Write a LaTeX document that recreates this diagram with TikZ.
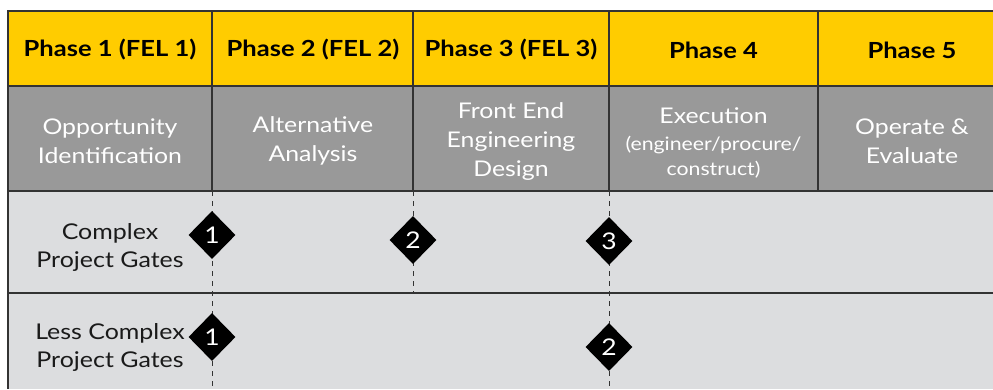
\documentclass[tikz,border=0pt]{standalone}
\usepackage{fontspec}
\setmainfont[FakeStretch=1.15]{Lato}
\usetikzlibrary{shapes.geometric}
\definecolor{hdryellow}{HTML}{FFCC00}
\definecolor{hdrgray}{HTML}{999999}
\definecolor{rowgray}{HTML}{DCDDDF}
\definecolor{gridline}{HTML}{333333}
\definecolor{txtdark}{HTML}{1A1A1A}
\tikzset{
  phasehdr/.style={font=\bfseries\fontsize{22.2}{26}\selectfont, text=black, align=center},
  phasedesc/.style={font=\fontsize{21.6}{29}\selectfont, text=white, align=center},
  phasesub/.style={font=\fontsize{18.5}{24}\selectfont, text=white, align=center},
  rowlabel/.style={font=\fontsize{21.7}{28}\selectfont, text=txtdark, align=center},
  gridrule/.style={draw=gridline, line width=1.3pt},
  gateline/.style={draw=gridline, line width=1pt, dash pattern=on 5pt off 5pt},
  gate/.style={diamond, fill=black, text=white, inner sep=0pt, minimum width=47pt, minimum height=48pt, font=\fontsize{23}{26}\selectfont},
}
\begin{document}
\begin{tikzpicture}[x=1pt,y=-1pt]
\useasboundingbox (0,0) rectangle (993,389);
% fills
\fill[white] (0,0) rectangle (993,389);
\fill[hdryellow] (8,11) rectangle (993,86);
\fill[hdrgray] (8,86) rectangle (993,191);
\fill[rowgray] (8,191) rectangle (993,389);
% grid
\draw[gridrule] (993,11) -- (8,11) -- (8,389);
\draw[gridrule] (8,86) -- (993,86);
\draw[gridrule] (8,191) -- (993,191);
\draw[gridrule] (8,293) -- (993,293);
\foreach \xx in {212,413,609,818} {\draw[gridrule] (\xx,11) -- (\xx,191);}
% headers
\node[phasehdr] (h1) at (110,50) {Phase 1 (FEL 1)};
\node[phasehdr] (h2) at (313,50) {Phase 2 (FEL 2)};
\node[phasehdr] (h3) at (511,50) {Phase 3 (FEL 3)};
\node[phasehdr] (h4) at (713.5,50) {Phase 4};
\node[phasehdr] (h5) at (912,50) {Phase 5};
% descriptions
\node[phasedesc] (d1) at (110,141) {Opportunity\\Identification};
\node[phasedesc] (d2) at (313,141) {Alternative\\Analysis};
\node[phasedesc] (d3) at (511,142) {Front End\\Engineering\\Design};
\node[phasedesc] (d4) at (713.5,116) {Execution};
\node[phasesub] (d4b) at (713.5,145) {(engineer/procure/};
\node[phasesub] (d4c) at (713.5,169.5) {construct)};
\node[phasedesc] (d5) at (912,141) {Operate \&\\Evaluate};
% row labels
\node[rowlabel] (r1) at (110,247) {Complex\\Project Gates};
\node[rowlabel] (r2) at (110,347.5) {Less Complex\\Project Gates};
% gate anchors
\coordinate (t1) at (212,191);
\coordinate (t2) at (413,191);
\coordinate (t3) at (609,191);
\coordinate (b1) at (212,389);
\coordinate (b2) at (413,293);
\coordinate (b3) at (609,389);
\draw[gateline] (t1) -- (b1);
\draw[gateline] (t2) -- (b2);
\draw[gateline] (t3) -- (b3);
% gates
\node[gate] (c1) at (212,235) {1};
\node[gate] (c2) at (413,240) {2};
\node[gate] (c3) at (609,241) {3};
\node[gate] (l1) at (212,337) {1};
\node[gate] (l2) at (609,347) {2};
\end{tikzpicture}
\end{document}
